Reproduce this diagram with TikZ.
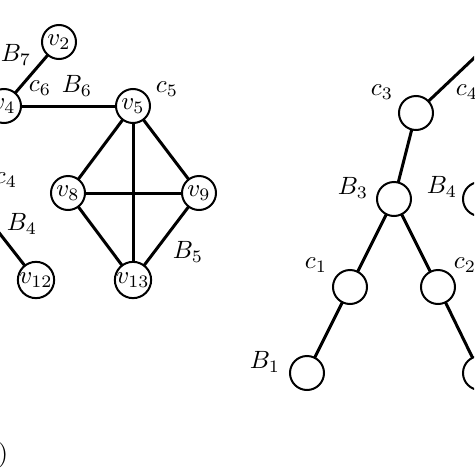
\documentclass[tikz,border=0pt]{standalone}
\begin{document}
\begin{tikzpicture}[x=0.4pt,y=-0.4pt,inner sep=0pt,outer sep=0pt,very thick,
vertex/.style={draw,circle,thick,minimum size=13.6pt,inner sep=0pt}]
\useasboundingbox (0,0) rectangle (474,474);
\clip (0,0) rectangle (474,474);
% left graph
\draw (59,42) node[vertex] (v2) {$v_2$};
\draw (4,106) node[vertex] (v4) {$v_4$};
\draw (133,106) node[vertex] (v5) {$v_5$};
\draw (68,193) node[vertex] (v8) {$v_8$};
\draw (199,193) node[vertex] (v9) {$v_9$};
\draw (36,280) node[vertex] (v12) {$v_{12}$};
\draw (133,280) node[vertex] (v13) {$v_{13}$};
\coordinate (w) at (-14,216);
\draw (16,55) node (lB7) {$B_7$};
\draw (40,88) node (lc6) {$c_6$};
\draw (77,86) node (lB6) {$B_6$};
\draw (167,89) node (lc5) {$c_5$};
\draw (6,180) node (lc4) {$c_4$};
\draw (22,224) node (lB4) {$B_4$};
\draw (188,252) node (lB5) {$B_5$};
\draw (8,455) node[anchor=east] (cap) {(a)};
\draw (v2) -- (v4);
\draw (v4) -- (v5);
\draw (v5) -- (v8);
\draw (v5) -- (v9);
\draw (v5) -- (v13);
\draw (v8) -- (v9);
\draw (v8) -- (v13);
\draw (v9) -- (v13);
\draw (w) -- (v12);
% right tree
\coordinate (top) at (492,41);
\draw (416,113) node[vertex] (c3) {};
\draw (394,199) node[vertex] (B3) {};
\draw (480,199) node[vertex] (B4) {};
\draw (350,287) node[vertex] (c1) {};
\draw (438,287) node[vertex] (c2) {};
\draw (307,373) node[vertex] (B1) {};
\draw (480,373) node[vertex] (B2) {};
\draw (382,92) node (lc3) {$c_3$};
\draw (467,92) node (lc4r) {$c_4$};
\draw (353,188) node (lB3) {$B_3$};
\draw (442,187) node (lB4r) {$B_4$};
\draw (316,265) node (lc1) {$c_1$};
\draw (465,265) node (lc2) {$c_2$};
\draw (265,362) node (lB1) {$B_1$};
\draw (top) -- (c3);
\draw (c3) -- (B3);
\draw (B3) -- (c1);
\draw (B3) -- (c2);
\draw (c1) -- (B1);
\draw (c2) -- (B2);
\end{tikzpicture}
\end{document}
